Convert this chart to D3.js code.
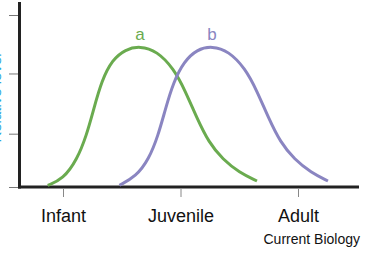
<!DOCTYPE html>
<html>
<head>
<meta charset="utf-8">
<script src="https://cdn.jsdelivr.net/npm/d3@7"></script>
<style>
  html, body { margin: 0; padding: 0; background: #fff; }
  svg { display: block; font-family: "Liberation Sans", Arial, sans-serif; }
</style>
</head>
<body>
<div id="chart"></div>
<script>
// stage categories along the x axis
const stages = ["Infant", "Juvenile", "Adult"];
const yTicks = [0, 0.31, 0.66, 1];

// curve a (green) — x in stage units, y relative level
const seriesA = [
  [-0.13, 0.01], [0.0, 0.045], [0.12, 0.16], [0.2, 0.3], [0.26, 0.45],
  [0.33, 0.62], [0.42, 0.74], [0.53, 0.8], [0.655, 0.82], [0.8, 0.79],
  [0.94, 0.69], [1.04, 0.56], [1.14, 0.4], [1.24, 0.26], [1.36, 0.16],
  [1.5, 0.085], [1.651, 0.035]
];
// curve b (purple)
const seriesB = [
  [0.48, 0.01], [0.62, 0.06], [0.73, 0.16], [0.81, 0.3], [0.87, 0.45],
  [0.94, 0.61], [1.03, 0.73], [1.14, 0.8], [1.268, 0.82], [1.41, 0.79],
  [1.55, 0.69], [1.65, 0.56], [1.75, 0.4], [1.85, 0.26], [1.97, 0.16],
  [2.11, 0.085], [2.255, 0.035]
];
const seriesNames = ["a", "b"];
const seriesColors = ["#6aab4f", "#8a85c1"];

const W = 368, H = 258;
const svg = d3.select("#chart").append("svg").attr("width", W).attr("height", H);

const x = d3.scaleLinear().domain([0, 2]).range([63, 298]);
const y = d3.scaleLinear().domain([0, 1]).range([187, 15]);

// y label, cropped at the left edge as in the source figure
svg.append("text")
  .attr("transform", "translate(1,98) rotate(-90)")
  .attr("text-anchor", "middle")
  .attr("font-size", 15)
  .attr("fill", "#2aa6e0")
  .text("Relative level");

// y ticks
const yAxis = svg.append("g").attr("transform", "translate(19,0)")
  .call(d3.axisLeft(y).tickValues(yTicks).tickSize(10).tickFormat(""));
yAxis.select(".domain").remove();
yAxis.selectAll(".tick line").attr("stroke", "#777").attr("stroke-width", 1);

// x ticks + labels
const xAxis = svg.append("g").attr("transform", "translate(0,189)")
  .call(d3.axisBottom(x).tickValues([0, 1, 2]).tickSize(8).tickPadding(12)
    .tickFormat((d, i) => stages[i]));
xAxis.select(".domain").remove();
xAxis.selectAll(".tick line").attr("stroke", "#888").attr("stroke-width", 1);
xAxis.selectAll(".tick text")
  .attr("font-size", 18).attr("fill", "#111")
  .attr("font-family", "Liberation Sans, Arial, sans-serif");

// axis frame lines
svg.append("line").attr("x1", 19.5).attr("x2", 19.5).attr("y1", 2).attr("y2", 188.5)
  .attr("stroke", "#222").attr("stroke-width", 3);
svg.append("line").attr("x1", 18).attr("x2", 359).attr("y1", 187).attr("y2", 187)
  .attr("stroke", "#222").attr("stroke-width", 3);

const line = d3.line()
  .x(d => x(d[0]))
  .y(d => y(d[1]))
  .curve(d3.curveBasis);

[seriesA, seriesB].forEach((s, i) => {
  svg.append("path")
    .datum(s)
    .attr("d", line)
    .attr("fill", "none")
    .attr("stroke", seriesColors[i])
    .attr("stroke-width", 3);

  const peak = s.reduce((a, b) => (b[1] > a[1] ? b : a));
  svg.append("text")
    .attr("x", x(peak[0]))
    .attr("y", y(peak[1]) - 6)
    .attr("text-anchor", "middle")
    .attr("font-size", 17)
    .attr("fill", seriesColors[i])
    .text(seriesNames[i]);
});

svg.append("text")
  .attr("x", 360).attr("y", 244)
  .attr("text-anchor", "end")
  .attr("font-size", 14)
  .attr("fill", "#111")
  .text("Current Biology");
</script>
</body>
</html>
